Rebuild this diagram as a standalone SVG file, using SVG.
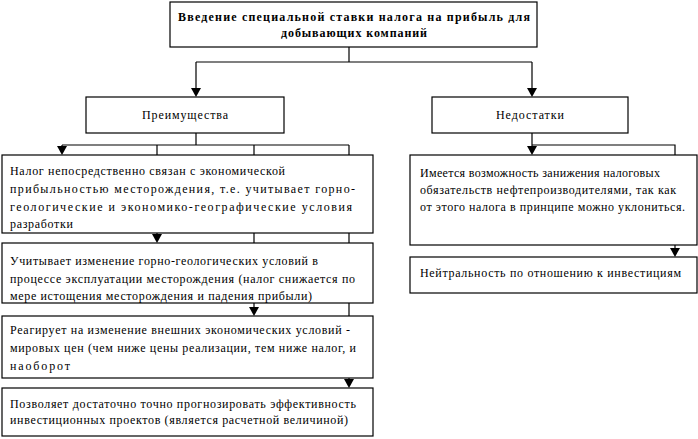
<svg xmlns="http://www.w3.org/2000/svg" width="698" height="439" viewBox="0 0 698 439">
<style>
rect.box{fill:#fff;stroke:#000;stroke-width:1.2}
text{font-family:"Liberation Serif","DejaVu Serif",serif;font-size:12px;fill:#000}
text.b{font-weight:bold}
text.c{text-anchor:middle}
path.ln{fill:none;stroke:#000;stroke-width:1.2}
path.ah{fill:#000;stroke:none}
</style>
<defs>
<path id="ah" class="ah" d="M-5,-9 L5,-9 L0,0 Z"/>
</defs>
<rect width="698" height="439" fill="#fff"/>
<g id="connectors">
<path class="ln" d="M349,47 V62 M196,62 H532 M196,62 V92 M532,62 V92"/>
<path class="ln" d="M196,133 V145 M62,145 H349 M62,145 V150 M157,145 V155 M254,145 V155 M349,145 V155"/>
<path class="ln" d="M157,233 V238 M254,233 V243 M349,233 V243"/>
<path class="ln" d="M254,303 V311 M349,303 V316"/>
<path class="ln" d="M349,378 V383"/>
<path class="ln" d="M532,133 V145 H675 V155 M532,145 V150"/>
<path class="ln" d="M675,245 V252"/>
<use href="#ah" x="196" y="97"/>
<use href="#ah" x="532" y="97"/>
<use href="#ah" x="62" y="155"/>
<use href="#ah" x="157" y="243"/>
<use href="#ah" x="254" y="316"/>
<use href="#ah" x="349" y="388"/>
<use href="#ah" x="532" y="155"/>
<use href="#ah" x="675" y="257"/>
</g>
<g id="top">
<rect class="box" x="170" y="2" width="367" height="45"/>
<text class="b c" x="354" y="21" textLength="352" lengthAdjust="spacing">Введение специальной ставки налога на прибыль для</text>
<text class="b c" x="354" y="37" textLength="146" lengthAdjust="spacing">добывающих компаний</text>
</g>
<g id="pros">
<rect class="box" x="86" y="97" width="198" height="36"/>
<text class="c" x="185" y="119" textLength="86" lengthAdjust="spacing">Преимущества</text>
</g>
<g id="cons">
<rect class="box" x="432" y="97" width="196" height="36"/>
<text class="c" x="530" y="119" textLength="68" lengthAdjust="spacing">Недостатки</text>
</g>
<g id="pro1">
<rect class="box" x="2" y="155" width="371" height="78"/>
<text x="10" y="175" textLength="275" lengthAdjust="spacing">Налог непосредственно связан с экономической</text>
<text x="10" y="193" textLength="345" lengthAdjust="spacing">прибыльностью месторождения, т.е. учитывает горно-</text>
<text x="10" y="211" textLength="342" lengthAdjust="spacing">геологические и экономико-географические условия</text>
<text x="10" y="228" textLength="63" lengthAdjust="spacing">разработки</text>
</g>
<g id="pro2">
<rect class="box" x="2" y="243" width="371" height="60"/>
<text x="10" y="265" textLength="308" lengthAdjust="spacing">Учитывает изменение горно-геологических условий в</text>
<text x="10" y="283" textLength="345" lengthAdjust="spacing">процессе эксплуатации месторождения (налог снижается по</text>
<text x="10" y="300" textLength="302" lengthAdjust="spacing">мере истощения месторождения и падения прибыли)</text>
</g>
<g id="pro3">
<rect class="box" x="2" y="316" width="371" height="62"/>
<text x="10" y="334" textLength="340" lengthAdjust="spacing">Реагирует на изменение внешних экономических условий -</text>
<text x="10" y="352" textLength="346" lengthAdjust="spacing">мировых цен (чем ниже цены реализации, тем ниже налог, и</text>
<text x="10" y="370" textLength="60" lengthAdjust="spacing">наоборот</text>
</g>
<g id="pro4">
<rect class="box" x="2" y="388" width="371" height="48"/>
<text x="10" y="408" textLength="346" lengthAdjust="spacing">Позволяет достаточно точно прогнозировать эффективность</text>
<text x="10" y="424" textLength="338" lengthAdjust="spacing">инвестиционных проектов (является расчетной величиной)</text>
</g>
<g id="con1">
<rect class="box" x="410" y="155" width="287" height="90"/>
<text x="420" y="177" textLength="240" lengthAdjust="spacing">Имеется возможность занижения налоговых</text>
<text x="420" y="194" textLength="256" lengthAdjust="spacing">обязательств нефтепроизводителями, так как</text>
<text x="420" y="211" textLength="265" lengthAdjust="spacing">от этого налога в принципе можно уклониться.</text>
</g>
<g id="con2">
<rect class="box" x="410" y="257" width="287" height="36"/>
<text x="420" y="277" textLength="261" lengthAdjust="spacing">Нейтральность по отношению к инвестициям</text>
</g>
</svg>
